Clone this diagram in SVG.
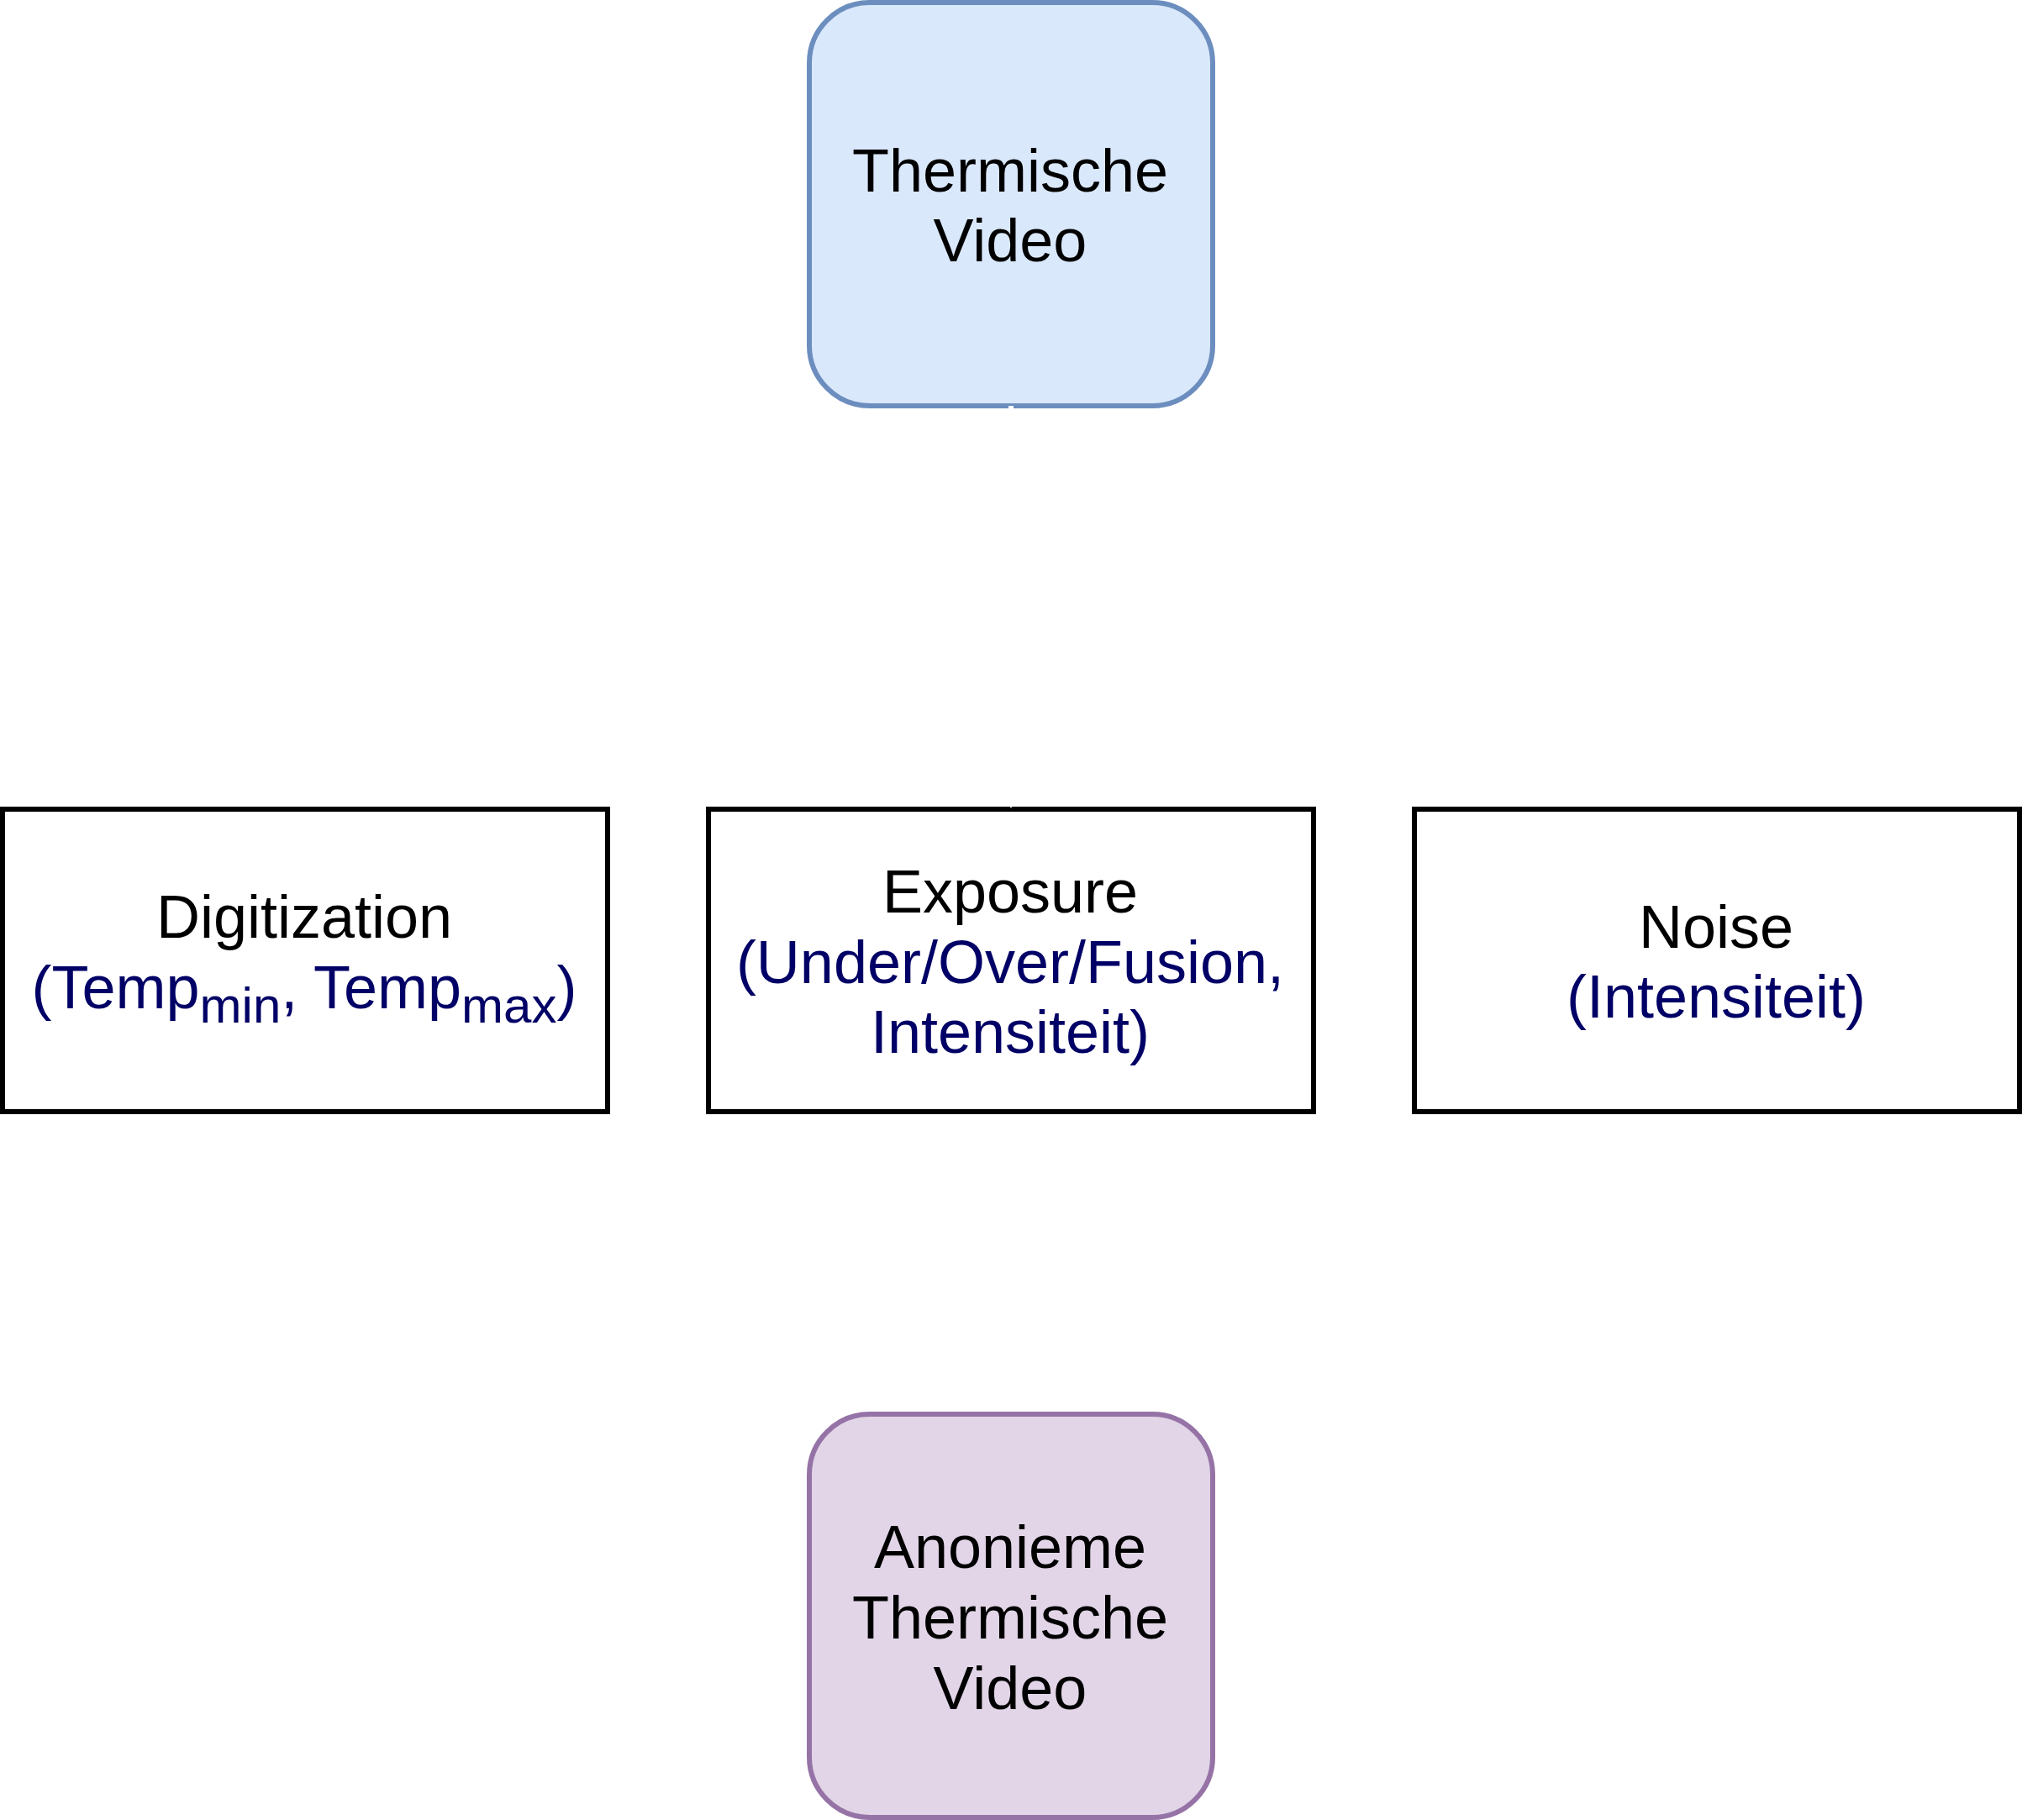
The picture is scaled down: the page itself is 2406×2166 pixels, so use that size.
<svg xmlns="http://www.w3.org/2000/svg" width="2406" height="2166" viewBox="0 0 2406 2166">
<defs>
<style>
.t{font-family:"Liberation Sans",Arial,Helvetica,sans-serif;font-size:72px;text-anchor:middle;fill:#000000}
.n{fill:#000066}
.s{font-size:60px}
.box{fill:#ffffff;stroke:#000000;stroke-width:6}
.blue{fill:#dae8fc;stroke:#6c8ebf;stroke-width:6}
.purple{fill:#e1d5e7;stroke:#9673a6;stroke-width:6}
.edge{fill:none;stroke:#ffffff;stroke-width:6}
.head{fill:#ffffff}
</style>
</defs>
<rect x="0" y="0" width="2406" height="2166" fill="#ffffff"/>
<g id="thermische-video">
<rect class="blue" x="963" y="3" width="480" height="480" rx="72" ry="72"/>
<text class="t" x="1202" y="228">Thermische</text>
<text class="t" x="1202" y="311">Video</text>
</g>
<g id="digitization">
<rect class="box" x="3" y="963" width="720" height="360"/>
<text class="t" x="362" y="1116">Digitization</text>
<text class="t n" x="362" y="1200">(Temp<tspan class="s" dy="17">min</tspan><tspan dy="-17">, Temp</tspan><tspan class="s" dy="17">max</tspan><tspan dy="-17">)</tspan></text>
</g>
<g id="exposure">
<rect class="box" x="843" y="963" width="720" height="360"/>
<text class="t" x="1202" y="1086">Exposure</text>
<text class="t n" x="1202" y="1170">(Under/Over/Fusion,</text>
<text class="t n" x="1202" y="1253">Intensiteit)</text>
</g>
<g id="noise">
<rect class="box" x="1683" y="963" width="720" height="360"/>
<text class="t" x="2042" y="1128">Noise</text>
<text class="t n" x="2042" y="1211">(Intensiteit)</text>
</g>
<g id="anonieme-thermische-video">
<rect class="purple" x="963" y="1683" width="480" height="480" rx="72" ry="72"/>
<text class="t" x="1202" y="1866">Anonieme</text>
<text class="t" x="1202" y="1950">Thermische</text>
<text class="t" x="1202" y="2034">Video</text>
</g>
<g id="connectors">
<line class="edge" x1="1203" y1="483" x2="1203" y2="950"/>
<path class="head" d="M1203,962 L1195,946 L1211,946 Z"/>
</g>
</svg>
